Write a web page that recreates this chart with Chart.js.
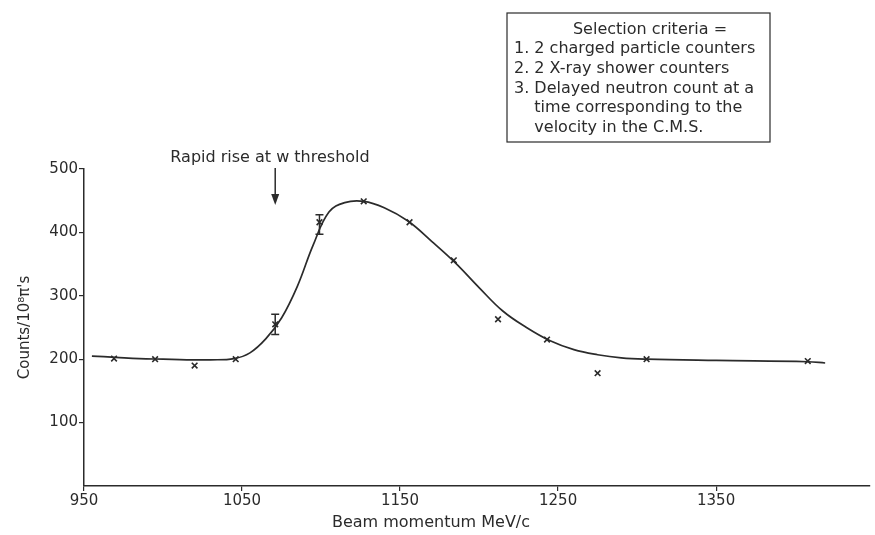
<!DOCTYPE html>
<html>
<head>
<meta charset="utf-8">
<script src="https://cdn.jsdelivr.net/npm/chart.js@4/dist/chart.umd.min.js"></script>
<style>
  html, body { margin: 0; padding: 0; background: #fff; }
</style>
</head>
<body>
<canvas id="chart" width="875" height="535"></canvas>
<script>
// measured points (beam momentum MeV/c, counts per 10^8 pi's)
const momentum = [969, 995, 1020, 1046, 1071, 1099, 1127, 1156, 1184, 1212, 1243, 1275, 1306, 1408];
const counts = [201, 200, 190, 200, 255, 416, 449, 416, 356, 263, 231, 178, 200, 197];

// points that carry error bars
const errMomentum = [1071, 1099];
const errLow = [239, 397];
const errHigh = [271, 428];

// hand-drawn fitted curve
const curveMomentum = [955, 970, 985, 1000, 1015, 1030, 1045, 1055, 1065, 1075, 1085, 1095, 1105, 1115, 1127, 1140, 1155, 1170, 1185, 1200, 1215, 1230, 1245, 1260, 1275, 1290, 1306, 1350, 1408, 1419];
const curveCounts = [205, 203, 201, 200, 199, 199, 201, 210, 232, 265, 315, 380, 432, 447, 449, 439, 418, 386, 352, 313, 276, 250, 229, 215, 207, 202, 200, 198, 196, 194];

const xTicks = [950, 1050, 1150, 1250, 1350];
const yTicks = [100, 200, 300, 400, 500];

const arrowMomentum = 1071;
const arrowNote = 'Rapid rise at w threshold';
const xTitle = 'Beam momentum MeV/c';
const criteriaTitle = 'Selection criteria =';
const criteria = [
  '1. 2 charged particle counters',
  '2. 2 X-ray shower counters',
  '3. Delayed neutron count at a',
  '    time corresponding to the',
  '    velocity in the C.M.S.'
];

const ink = '#2b2b2b';
const font = '"DejaVu Sans", sans-serif';

const extras = {
  id: 'extras',
  afterDatasetsDraw(chart) {
    const { ctx, scales: { x, y } } = chart;
    ctx.save();
    ctx.strokeStyle = ink;
    ctx.fillStyle = ink;
    ctx.lineWidth = 1.5;

    // error bars
    errMomentum.forEach((m, i) => {
      const px = x.getPixelForValue(m);
      const lo = y.getPixelForValue(errLow[i]);
      const hi = y.getPixelForValue(errHigh[i]);
      ctx.beginPath();
      ctx.moveTo(px, lo); ctx.lineTo(px, hi);
      ctx.moveTo(px - 4, lo); ctx.lineTo(px + 4, lo);
      ctx.moveTo(px - 4, hi); ctx.lineTo(px + 4, hi);
      ctx.stroke();
    });

    // threshold arrow
    const ax = x.getPixelForValue(arrowMomentum);
    ctx.beginPath();
    ctx.moveTo(ax, 168); ctx.lineTo(ax, 198);
    ctx.stroke();
    ctx.beginPath();
    ctx.moveTo(ax - 4, 194); ctx.lineTo(ax + 4, 194); ctx.lineTo(ax, 205);
    ctx.closePath(); ctx.fill();

    ctx.font = '16px ' + font;
    ctx.textBaseline = 'middle';
    ctx.textAlign = 'center';
    ctx.fillText(arrowNote, 270, 158);

    // x axis title
    ctx.fillText(xTitle, 431, 523);

    // selection criteria box
    ctx.lineWidth = 1.2;
    ctx.strokeRect(507, 13, 263, 129);
    ctx.fillText(criteriaTitle, 650, 30);
    ctx.textAlign = 'left';
    criteria.forEach((line, i) => ctx.fillText(line, 514, 49 + i * 19.7));

    ctx.restore();
  }
};

new Chart(document.getElementById('chart'), {
  type: 'scatter',
  data: {
    datasets: [
      {
        label: 'fit',
        data: curveMomentum.map((m, i) => ({ x: m, y: curveCounts[i] })),
        showLine: true,
        tension: 0.4,
        borderColor: ink,
        borderWidth: 1.7,
        pointRadius: 0,
        fill: false
      },
      {
        label: 'counts',
        data: momentum.map((m, i) => ({ x: m, y: counts[i] })),
        pointStyle: 'crossRot',
        pointRadius: 4,
        borderColor: ink,
        borderWidth: 1.6,
        backgroundColor: ink
      }
    ]
  },
  options: {
    responsive: false,
    devicePixelRatio: 1,
    animation: false,
    layout: { padding: { top: 169, right: 0, bottom: 0, left: 0 } },
    plugins: { legend: { display: false }, tooltip: { enabled: false } },
    scales: {
      x: {
        type: 'linear',
        min: 950,
        max: 1447,
        afterBuildTicks: s => { s.ticks = xTicks.map(v => ({ value: v })); },
        afterFit: s => { s.height = 49; },
        border: { color: ink, width: 1.5 },
        grid: { display: true, drawOnChartArea: false, tickLength: 5, color: ink, lineWidth: 1.2 },
        ticks: { color: ink, padding: 1, font: { family: font, size: 15 }, maxRotation: 0, callback: v => String(v) }
      },
      y: {
        min: 0,
        max: 500,
        afterBuildTicks: s => { s.ticks = yTicks.map(v => ({ value: v })); },
        afterFit: s => { s.width = 84; },
        border: { color: ink, width: 1.5 },
        grid: { display: true, drawOnChartArea: false, tickLength: 5, color: ink, lineWidth: 1.2 },
        ticks: { color: ink, padding: 1, font: { family: font, size: 15 }, callback: v => String(v) },
        title: {
          display: true,
          text: "Counts/10⁸π's",
          color: ink,
          padding: { top: 16, bottom: 0 },
          font: { family: font, size: 15 }
        }
      }
    }
  },
  plugins: [extras]
});
</script>
</body>
</html>
